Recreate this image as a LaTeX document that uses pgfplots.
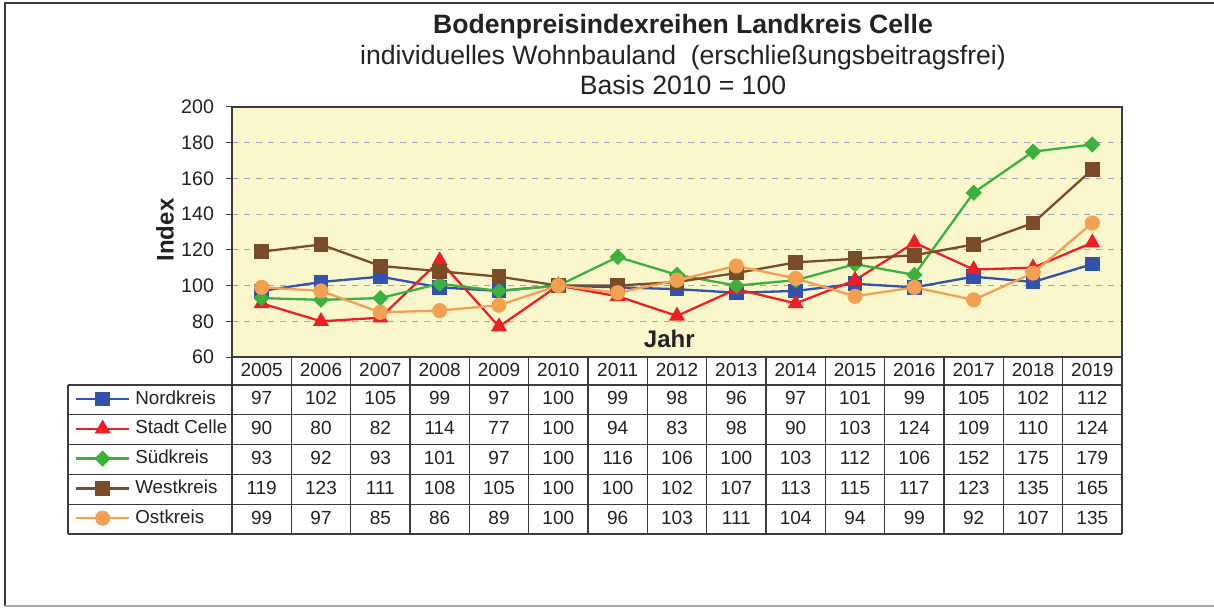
\documentclass[border=0pt]{standalone}
\usepackage{pgfplots}
\usepackage{pgfplotstable}
\pgfplotsset{compat=1.18}
\usepackage{fontspec}
\setmainfont{Liberation Sans}
\definecolor{bgc}{RGB}{250,247,205}
\definecolor{gridc}{RGB}{160,160,190}
\definecolor{axc}{RGB}{60,60,60}
\definecolor{txt}{RGB}{34,34,34}
\definecolor{cN}{RGB}{50,82,172}
\definecolor{cS}{RGB}{236,32,36}
\definecolor{cSu}{RGB}{60,178,60}
\definecolor{cW}{RGB}{124,76,40}
\definecolor{cO}{RGB}{244,160,82}
\pgfplotstableread{
year N S Su W O
2005 97 90 93 119 99
2006 102 80 92 123 97
2007 105 82 93 111 85
2008 99 114 101 108 86
2009 97 77 97 105 89
2010 100 100 100 100 100
2011 99 94 116 100 96
2012 98 83 106 102 103
2013 96 98 100 107 111
2014 97 90 103 113 104
2015 101 103 112 115 94
2016 99 124 106 117 99
2017 105 109 152 123 92
2018 102 110 175 135 107
2019 112 124 179 165 135
}\data
\begin{document}
\begin{tikzpicture}
\begin{scope}[x=0.5pt,y=-0.5pt]
\path[use as bounding box] (0,0) rectangle (1214,608);
\draw[axc,line width=0.9pt] (5,606) -- (5,3) -- (1214,3);
\draw[gray!70,line width=0.8pt] (5,606) -- (1214,606);
\node[anchor=base,txt,font=\bfseries\fontsize{13.3}{16}\selectfont] at (683,34) {Bodenpreisindexreihen Landkreis Celle};
\node[anchor=base,txt,font=\fontsize{13.3}{16}\selectfont] at (683,65) {individuelles Wohnbauland\ \ (erschließungsbeitragsfrei)};
\node[anchor=base,txt,font=\fontsize{13.3}{16}\selectfont] at (683,95) {Basis 2010 = 100};
\node[rotate=90,txt,font=\bfseries\fontsize{12}{14}\selectfont] at (165,230) {Index};
\end{scope}
\begin{axis}[
  at={(116pt,-178.5pt)}, anchor=south west,
  scale only axis, width=445pt, height=125pt,
  xmin=0, xmax=15, ymin=60, ymax=200,
  ytick={60,80,...,200}, xtick=\empty, ytick pos=left,
  ymajorgrids, grid style={dashed, color=gridc, line width=0.4pt},
  axis background/.style={fill=bgc},
  axis line style={draw=axc, line width=0.6pt},
  every tick/.style={axc, line width=0.5pt},
  major tick length=3pt, tick align=outside,
  /pgf/number format/assume math mode=true,
  yticklabel style={font=\fontsize{9.8}{12}\selectfont, text=txt, xshift=-2.5pt},
  clip=false,
  legend cell align=left,
  legend image code/.code={\draw[mark repeat=2,mark phase=2,#1] plot coordinates {(0pt,0pt)(13.25pt,0pt)(26.5pt,0pt)};},
  legend style={draw=none, fill=none, inner sep=0pt, outer sep=0pt,
    at={(-0.1764,-0.132)}, anchor=north west, row sep=5.9pt, column sep=2.5pt,
    font=\fontsize{9.4}{12}\selectfont, text=txt,
    nodes={inner sep=0pt, text height=7pt, text depth=2pt}},
  every axis plot/.append style={line width=1.15pt},
]
\addplot[cN, mark=square*, mark size=3.1pt] table[x expr=\coordindex+0.5, y=N] {\data};
\addlegendentry{Nordkreis}
\addplot[cS, mark=triangle*, mark size=3.5pt] table[x expr=\coordindex+0.5, y=S] {\data};
\addlegendentry{Stadt Celle}
\addplot[cSu, mark=square*, mark options={rotate=45}, mark size=2.3pt] table[x expr=\coordindex+0.5, y=Su] {\data};
\addlegendentry{Südkreis}
\addplot[cW, mark=square*, mark size=3.1pt] table[x expr=\coordindex+0.5, y=W] {\data};
\addlegendentry{Westkreis}
\addplot[cO, mark=*, mark size=3.2pt] table[x expr=\coordindex+0.5, y=O] {\data};
\addlegendentry{Ostkreis}
\node[anchor=base,txt,font=\bfseries\fontsize{12}{14}\selectfont] at (axis cs:7.37,65.6) {Jahr};
\end{axis}
\begin{scope}[x=0.5pt,y=-0.5pt]
\foreach \k in {0,...,15} {
  \draw[axc,line width=0.6pt] ({232+\k*59.3333},357) -- ({232+\k*59.3333},534);
}
\draw[axc,line width=0.6pt] (68,385) -- (68,534);
\foreach \r in {0,...,5} {
  \draw[axc,line width=0.6pt] (68,{385+\r*29.8}) -- (1122,{385+\r*29.8});
}
\foreach \i in {0,...,14} {
  \pgfplotstablegetelem{\i}{year}\of\data
  \node[anchor=base,txt,inner sep=0pt,font=\fontsize{9.5}{12}\selectfont] at ({232+(\i+0.5)*59.3333},377) {\pgfplotsretval};
}
\foreach \col [count=\r from 0] in {N,S,Su,W,O} {
  \foreach \i in {0,...,14} {
    \pgfplotstablegetelem{\i}{\col}\of\data
    \node[anchor=base,txt,inner sep=0pt,font=\fontsize{9.5}{12}\selectfont] at ({232+(\i+0.5)*59.3333},{405+\r*29.8}) {\pgfplotsretval};
  }
}
\end{scope}
\end{tikzpicture}
\end{document}
